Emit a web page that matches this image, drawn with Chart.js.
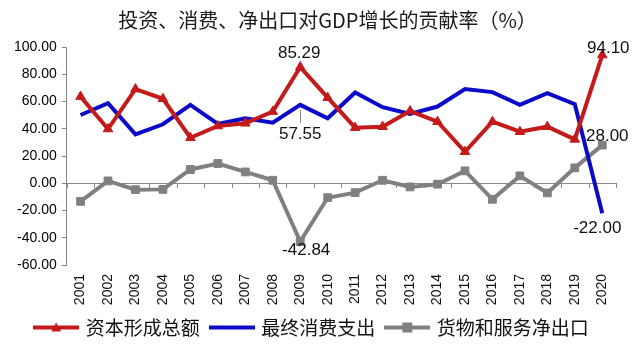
<!DOCTYPE html>
<html>
<head>
<meta charset="utf-8">
<script src="https://cdn.jsdelivr.net/npm/chart.js@4.4.1/dist/chart.umd.min.js"></script>
<style>
    html, body { margin: 0; padding: 0; background: #fff; }
</style>
</head>
<body>
<canvas id="chart-area" width="640" height="353"></canvas>
<script>
    'use strict';

    var years = ['2001', '2002', '2003', '2004', '2005', '2006', '2007', '2008', '2009', '2010',
                 '2011', '2012', '2013', '2014', '2015', '2016', '2017', '2018', '2019', '2020'];
    // 资本形成总额
    var capital = [63.6, 39.8, 69.1, 62.0, 33.4, 42.0, 44.0, 52.6, 85.29, 62.8,
                   40.8, 41.5, 53.0, 45.2, 23.1, 45.2, 37.8, 41.5, 32.2, 94.10];
    // 最终消费支出
    var consumption = [50.1, 58.7, 35.9, 43.3, 57.5, 43.6, 47.7, 44.5, 57.55, 47.7,
                       66.6, 55.8, 50.9, 56.3, 69.1, 66.9, 57.5, 66.1, 58.0, -22.00];
    // 货物和服务净出口
    var netExport = [-13.3, 1.7, -4.7, -4.5, 10.1, 14.5, 8.3, 2.2, -42.84, -10.6,
                     -6.9, 2.2, -2.7, -0.7, 9.1, -11.8, 5.4, -7.1, 11.3, 28.00];
    var seriesNames = ['资本形成总额', '最终消费支出', '货物和服务净出口'];
    var yMin = -60, yMax = 100, yStep = 20;

    var red = '#C41A1A', blue = '#0A0AC8', grey = '#808080';
    var cjk = '"Noto Sans CJK SC", "Noto Sans", sans-serif';
    var latin = '"Liberation Sans", Arial, sans-serif';

    function legendIcon(color, shape) {
        var c = document.createElement('canvas');
        c.width = 46; c.height = 14;
        var g = c.getContext('2d');
        g.strokeStyle = color; g.fillStyle = color; g.lineWidth = 4;
        g.beginPath(); g.moveTo(0, 7); g.lineTo(46, 7); g.stroke();
        if (shape === 'triangle') {
            g.beginPath(); g.moveTo(23, 2); g.lineTo(28, 11); g.lineTo(18, 11); g.closePath(); g.fill();
        } else if (shape === 'square') {
            g.fillRect(18, 2, 10, 10);
        }
        return c;
    }
    var icons = [legendIcon(red, 'triangle'), legendIcon(blue), legendIcon(grey, 'square')];

    // short tick marks along the zero line, at category boundaries
    var zeroTicks = {
        id: 'zeroTicks',
        beforeDatasetsDraw: function (chart) {
            var xs = chart.scales.x, ys = chart.scales.y, ctx = chart.ctx;
            var n = chart.data.labels.length;
            var y0 = Math.round(ys.getPixelForValue(0));
            var step = xs.width / n;
            ctx.save();
            ctx.strokeStyle = '#888'; ctx.lineWidth = 1;
            ctx.beginPath();
            for (var i = 0; i <= n; i++) {
                var x = Math.round(xs.left + i * step) + 0.5;
                ctx.moveTo(x, y0); ctx.lineTo(x, y0 + 5);
            }
            ctx.stroke();
            ctx.restore();
        }
    };

    // value labels on a few points
    var pointLabels = {
        id: 'pointLabels',
        afterDatasetsDraw: function (chart, args, opts) {
            var ctx = chart.ctx;
            ctx.save();
            ctx.font = '17px ' + latin;
            ctx.textAlign = 'center';
            ctx.textBaseline = 'middle';
            opts.spots.forEach(function (s) {
                var pt = chart.getDatasetMeta(s.ds).data[s.i];
                var v = chart.data.datasets[s.ds].data[s.i];
                if (s.leader) {
                    ctx.strokeStyle = '#888'; ctx.lineWidth = 1;
                    ctx.beginPath();
                    ctx.moveTo(Math.round(pt.x) + 0.5, pt.y + 5);
                    ctx.lineTo(Math.round(pt.x) + 0.5, pt.y + s.dy - 11);
                    ctx.stroke();
                }
                ctx.fillStyle = '#111';
                ctx.fillText(v.toFixed(2), pt.x + s.dx, pt.y + s.dy);
            });
            ctx.restore();
        }
    };

    var ctx = document.getElementById('chart-area').getContext('2d');
    window.gdpChart = new Chart(ctx, {
        type: 'line',
        data: {
            labels: years,
            datasets: [
                {
                    label: seriesNames[0],
                    data: capital,
                    borderColor: red,
                    backgroundColor: red,
                    borderWidth: 4,
                    pointStyle: 'triangle',
                    pointRadius: 5.5,
                    pointBorderWidth: 1
                },
                {
                    label: seriesNames[1],
                    data: consumption,
                    borderColor: blue,
                    backgroundColor: blue,
                    borderWidth: 4,
                    pointRadius: 0
                },
                {
                    label: seriesNames[2],
                    data: netExport,
                    borderColor: grey,
                    backgroundColor: grey,
                    borderWidth: 4,
                    pointStyle: 'rect',
                    pointRadius: 5.5,
                    pointBorderWidth: 1
                }
            ]
        },
        options: {
            responsive: false,
            animation: false,
            layout: { padding: { left: 9, right: 24, top: 0, bottom: 6 } },
            elements: { line: { tension: 0 } },
            scales: {
                x: {
                    offset: true,
                    grid: { display: false, drawTicks: false },
                    border: { display: false },
                    afterFit: function (scale) { scale.height = 41; },
                    ticks: {
                        autoSkip: false,
                        minRotation: 90,
                        maxRotation: 90,
                        padding: 9,
                        color: '#111',
                        font: { family: latin, size: 14 }
                    }
                },
                y: {
                    min: yMin,
                    max: yMax,
                    grid: {
                        color: function (c) { return c.tick && c.tick.value === 0 ? '#888' : 'rgba(0,0,0,0)'; },
                        tickColor: '#888',
                        tickLength: 5,
                        drawTicks: true
                    },
                    border: { color: '#888', width: 1 },
                    ticks: {
                        stepSize: yStep,
                        padding: 5,
                        color: '#000',
                        font: { family: latin, size: 14 },
                        callback: function (v) { return Number(v).toFixed(2); }
                    }
                }
            },
            plugins: {
                title: {
                    display: true,
                    text: '\u2003\u2002投资、消费、净出口对GDP增长的贡献率（%）',
                    color: '#1a1a1a',
                    font: { family: cjk, size: 20, weight: 'normal' },
                    padding: { top: 8, bottom: 15 }
                },
                legend: {
                    position: 'bottom',
                    labels: {
                        usePointStyle: true,
                        pointStyleWidth: 40,
                        padding: 12,
                        color: '#111',
                        font: { family: cjk, size: 19 },
                        generateLabels: function (chart) {
                            var items = Chart.defaults.plugins.legend.labels.generateLabels(chart);
                            items.forEach(function (it) { it.pointStyle = icons[it.datasetIndex]; });
                            return items;
                        }
                    }
                },
                tooltip: { enabled: false },
                pointLabels: {
                    spots: [
                        { ds: 0, i: 8, dx: -1, dy: -14 },
                        { ds: 1, i: 8, dx: 0, dy: 29, leader: true },
                        { ds: 2, i: 8, dx: 6, dy: 9 },
                        { ds: 0, i: 19, dx: 6, dy: -7 },
                        { ds: 2, i: 19, dx: 5, dy: -9 },
                        { ds: 1, i: 19, dx: -5, dy: 15 }
                    ]
                }
            }
        },
        plugins: [zeroTicks, pointLabels]
    });
</script>
</body>
</html>
